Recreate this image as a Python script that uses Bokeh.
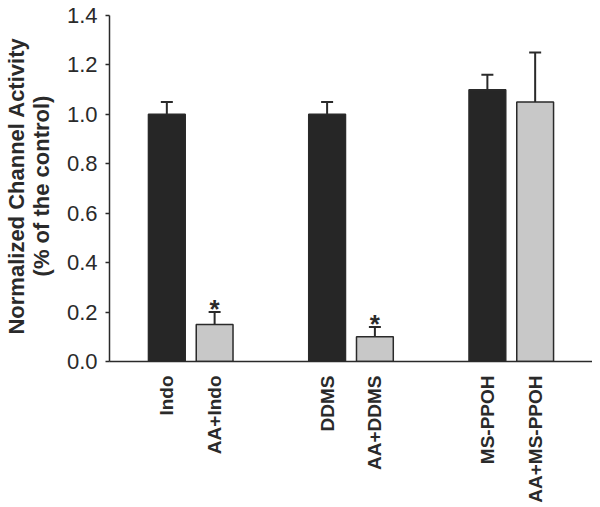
import math
from bokeh.plotting import figure
from bokeh.models import FactorRange, Range1d, ColumnDataSource, FixedTicker, PrintfTickFormatter
from bokeh.core.properties import value
from bokeh.embed import file_html
from bokeh.resources import INLINE

groups = ["g1", "g1", "g2", "g2", "g3", "g3"]
labels = ["Indo", "AA+Indo", "DDMS", "AA+DDMS", "MS-PPOH", "AA+MS-PPOH"]
values = [1.00, 0.15, 1.00, 0.10, 1.10, 1.05]
errors = [0.05, 0.05, 0.05, 0.04, 0.06, 0.20]
significant = [False, True, False, True, False, False]
colors = ["#262626", "#c8c8c8", "#262626", "#c8c8c8", "#262626", "#c8c8c8"]
y_ticks = [0.0, 0.2, 0.4, 0.6, 0.8, 1.0, 1.2, 1.4]

factors = list(zip(groups, labels))
FONT = "Liberation Sans"
INK = "#2a2a2a"

x_range = FactorRange(*factors, factor_padding=0.0, group_padding=1.354,
                      range_padding=0.70, range_padding_units="absolute")
p = figure(width=592, height=506, x_range=x_range, y_range=Range1d(0, 1.4202),
           output_backend="svg", toolbar_location=None,
           min_border_left=100, min_border_right=0, min_border_top=10, min_border_bottom=145)
p.outline_line_color = None
p.xgrid.visible = False
p.ygrid.visible = False

src = ColumnDataSource(dict(x=factors, top=values, color=colors,
                            upper=[v + e for v, e in zip(values, errors)]))

p.vbar(x="x", top="top", width=0.77, bottom=0, source=src, fill_color="color",
       line_color=INK, line_width=1.5)
p.segment(x0="x", y0="top", x1="x", y1="upper", source=src, line_color=INK, line_width=2)
p.scatter(x="x", y="upper", source=src, marker="dash", size=12, line_color=INK, line_width=2)

sig_src = ColumnDataSource(dict(
    x=[f for f, s in zip(factors, significant) if s],
    y=[v + e for v, e, s in zip(values, errors, significant) if s]))
p.text(x="x", y="y", text=value("*"), source=sig_src, text_font=value(FONT),
       text_font_style="bold", text_font_size="26px", text_align="center",
       text_baseline="middle", y_offset=-3, text_color=INK)

xa = p.xaxis[0]
xa.major_label_orientation = math.pi / 2
xa.major_label_text_font = FONT
xa.major_label_text_font_style = "bold"
xa.major_label_text_font_size = "19px"
xa.major_label_text_color = INK
xa.major_label_standoff = 8
xa.major_tick_line_color = None
xa.minor_tick_line_color = None
xa.axis_line_color = INK
xa.axis_line_width = 1.5
xa.group_text_font_size = "0px"
xa.group_text_color = None
xa.separator_line_color = None
xa.group_label_orientation = "horizontal"

ax = p.yaxis[0]
ax.bounds = (0, 1.4)
ax.ticker = FixedTicker(ticks=y_ticks)
ax.formatter = PrintfTickFormatter(format="%.1f")
ax.minor_tick_line_color = None
ax.major_tick_in = 0
ax.major_tick_out = 4
ax.axis_line_color = INK
ax.axis_line_width = 1.5
ax.major_tick_line_color = INK
ax.major_tick_line_width = 1.5
ax.major_label_text_font = FONT
ax.major_label_text_font_size = "22px"
ax.major_label_text_color = INK
ax.major_label_standoff = 8
ax.axis_label = "Normalized Channel Activity\n(% of the control)"
ax.axis_label_text_font = FONT
ax.axis_label_text_font_style = "bold"
ax.axis_label_text_font_size = "22px"
ax.axis_label_text_color = INK
ax.axis_label_text_line_height = 1.0
ax.axis_label_standoff = 10

open("out.html", "w").write(file_html(p, INLINE))
